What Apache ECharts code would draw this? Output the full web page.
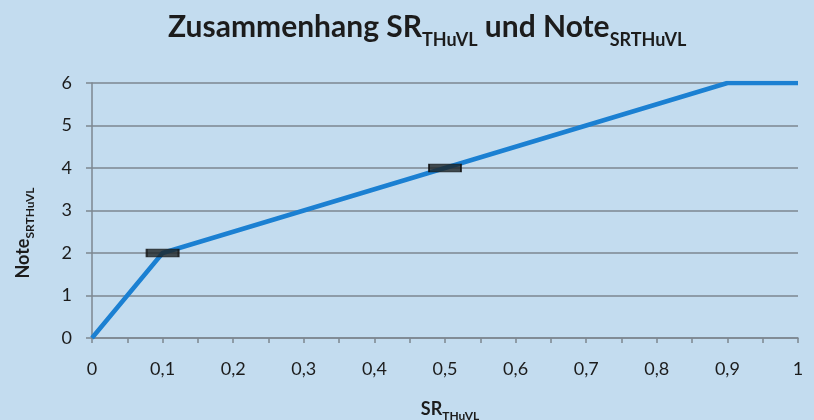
<!DOCTYPE html>
<html>
<head>
<meta charset="utf-8">
<script src="https://cdn.jsdelivr.net/npm/echarts@6/dist/echarts.min.js"></script>
<style>
  html, body { margin: 0; padding: 0; background: #c3dcef; }
  #chart { width: 814px; height: 420px; }
</style>
</head>
<body>
<div id="chart"></div>
<script>
// Kennlinie: Note in Abhängigkeit von SR
const srValues = [0, 0.1, 0.5, 0.9, 1];
const noteValues = [0, 2, 4, 6, 6];
// Stützstellen, die als schwarze Balken markiert sind
const markerSr = [0.1, 0.5];
const markerNote = [2, 4];

const font = 'Lato, "Open Sans", sans-serif';
const ink = '#1c1c1c';
const axisGrey = '#7d8790';
const chart = echarts.init(document.getElementById('chart'));

function subRich(big, small, drop) {
  return {
    a: { fontFamily: font, fontWeight: 'bold', fontSize: big, color: ink, verticalAlign: 'bottom', lineHeight: big + 8 },
    s: { fontFamily: font, fontWeight: 'bold', fontSize: small, color: ink, verticalAlign: 'bottom', lineHeight: big + 8, padding: [0, 0, -drop, 0] }
  };
}

chart.setOption({
  backgroundColor: '#c3dcef',
  animation: false,
  title: {
    left: 163,
    top: -1,
    text: '{a|Zusammenhang SR}{s|THuVL}{a| und Note}{s|SRTHuVL}',
    textStyle: { rich: subRich(30, 18, 7) }
  },
  grid: { left: 92, right: 16, top: 83, bottom: 82, outerBoundsMode: 'none' },
  xAxis: {
    type: 'value',
    min: 0,
    max: 1,
    interval: 0.05,
    name: '{a|SR}{s|THuVL}',
    nameLocation: 'middle',
    nameGap: 54,
    nameTextStyle: { rich: subRich(18, 12, 4), padding: [0, 0, 0, 10] },
    axisLine: { show: true, lineStyle: { color: axisGrey, width: 1.5 } },
    axisTick: { show: true, length: 5, lineStyle: { color: axisGrey, width: 1.5 } },
    splitLine: { show: false },
    axisLabel: {
      margin: 22,
      fontFamily: font,
      fontSize: 18,
      color: ink,
      formatter: function (v) {
        const k = Math.round(v * 20);
        if (k % 2 !== 0) return '';
        const t = Math.round(v * 10) / 10;
        return String(t).replace('.', ',');
      }
    }
  },
  yAxis: {
    type: 'value',
    min: 0,
    max: 6,
    interval: 1,
    name: '{a|Note}{s|SRTHuVL}',
    nameLocation: 'middle',
    nameRotate: 90,
    nameGap: 60,
    nameTextStyle: { rich: subRich(18, 12, 4), padding: [0, 45, 0, 0] },
    axisLine: { show: true, lineStyle: { color: axisGrey, width: 1.5 } },
    axisTick: { show: true, length: 6, lineStyle: { color: axisGrey, width: 1.5 } },
    splitLine: { show: true, lineStyle: { color: axisGrey, width: 1.5 } },
    axisLabel: {
      margin: 20,
      fontFamily: font,
      fontSize: 18,
      color: ink
    }
  },
  series: [
    {
      type: 'line',
      data: srValues.map((x, i) => [x, noteValues[i]]),
      showSymbol: false,
      lineStyle: { color: '#1b80d2', width: 4.5 },
      z: 2
    },
    {
      type: 'scatter',
      data: markerSr.map((x, i) => [x, markerNote[i]]),
      symbol: 'rect',
      symbolSize: [32, 8],
      itemStyle: { color: '#1e2426', borderColor: '#111', borderWidth: 1 },
      z: 3
    }
  ]
});
</script>
</body>
</html>
